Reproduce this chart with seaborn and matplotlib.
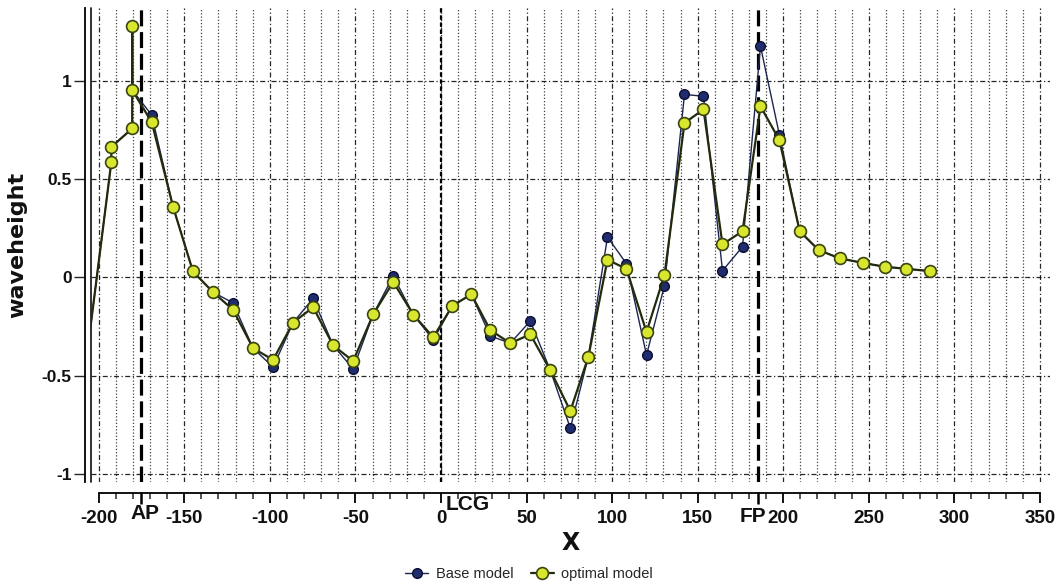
import matplotlib
matplotlib.use("Agg")
import matplotlib.pyplot as plt
import matplotlib.transforms as mtransforms
from matplotlib.ticker import MultipleLocator, FuncFormatter
import seaborn as sns

sns.set_theme(style="white")
plt.rcParams.update({
    "axes.unicode_minus": False,
    "font.family": ["DejaVu Sans"],
})
NARROW = ["Liberation Sans", "DejaVu Sans"]

# station positions along the hull (same for both models)
x_stations = [-212, -192.6, -192.6, -180.4, -180.4, -180.4, -169, -156.5, -144.9, -133.2,
              -121.5, -109.8, -98.1, -86.4, -74.7, -63, -51.3, -39.6, -27.9, -16.2,
              -4.5, 6.6, 17.7, 28.8, 40.5, 52.2, 63.9, 75.6, 86.1, 97.3,
              108.4, 120.1, 130.6, 142.3, 153.4, 164.5, 176.2, 186.7, 197.8, 209.6,
              220.7, 233, 246.4, 259.3, 271.6, 285.6]

base_wave = [-0.75, 0.588, 0.664, 0.758, 1.28, 0.953, 0.826, 0.358, 0.03, -0.075,
             -0.13, -0.36, -0.457, -0.23, -0.107, -0.346, -0.466, -0.188, 0.007, -0.189,
             -0.318, -0.145, -0.086, -0.298, -0.335, -0.222, -0.473, -0.767, -0.405, 0.205,
             0.07, -0.395, -0.042, 0.931, 0.922, 0.034, 0.156, 1.176, 0.724, 0.235,
             0.139, 0.097, 0.074, 0.054, 0.044, 0.032]

optimal_wave = [-0.75, 0.588, 0.664, 0.758, 1.28, 0.953, 0.79, 0.358, 0.03, -0.075,
                -0.165, -0.36, -0.42, -0.23, -0.152, -0.346, -0.426, -0.188, -0.023, -0.189,
                -0.305, -0.145, -0.086, -0.268, -0.335, -0.29, -0.473, -0.68, -0.405, 0.09,
                0.043, -0.278, 0.012, 0.786, 0.855, 0.168, 0.235, 0.871, 0.698, 0.235,
                0.139, 0.097, 0.074, 0.054, 0.044, 0.032]

# reference positions
ref_names = ["AP", "LCG", "FP"]
ref_x = [-175, 0, 185.2]

fig, ax = plt.subplots(figsize=(10.58, 5.87), dpi=100)
fig.subplots_adjust(left=0.086, right=0.992, top=0.986, bottom=0.179)

sns.lineplot(x=x_stations, y=base_wave, ax=ax, sort=False, estimator=None,
             color="#1d2550", lw=1.0, marker="o", markersize=7,
             markerfacecolor="#1f2c70", markeredgecolor="#0c0f2e", markeredgewidth=1.0,
             label="Base model", zorder=3)
sns.lineplot(x=x_stations, y=optimal_wave, ax=ax, sort=False, estimator=None,
             color="#222c0c", lw=1.6, marker="o", markersize=8.5,
             markerfacecolor="#d9e62e", markeredgecolor="#3a4510", markeredgewidth=1.2,
             label="optimal model", zorder=4)

ax.set_xlim(-204.5, 355.6)
ax.set_ylim(-1.041, 1.37)

# grid
ax.xaxis.set_major_locator(MultipleLocator(50))
ax.xaxis.set_minor_locator(MultipleLocator(10))
ax.yaxis.set_major_locator(MultipleLocator(0.5))
ax.yaxis.set_major_formatter(FuncFormatter(lambda v, p: f"{v:g}"))
ax.grid(which="major", axis="both", color="black", lw=0.9, alpha=0.85,
        linestyle=(0, (4, 2, 1, 2)))
ax.grid(which="minor", axis="x", color="black", lw=0.9, alpha=0.75,
        linestyle=(0, (1, 1.6)))
ax.set_axisbelow(True)

# reference lines
for name, xv in zip(ref_names, ref_x):
    if name == "LCG":
        ax.axvline(xv, color="black", lw=1.6, linestyle=(0, (2, 1.2)), zorder=2)
    else:
        ax.axvline(xv, color="black", lw=2.3, linestyle=(0, (5, 1.8)), zorder=2)

trans = mtransforms.blended_transform_factory(ax.transData, ax.transAxes)
ax.text(ref_x[0] + 2, -0.066, "AP", transform=trans, ha="center", va="center",
        family=NARROW, fontweight="bold", fontsize=15, color="#111111")
ax.text(ref_x[1] + 2.5, -0.047, "LCG", transform=trans, ha="left", va="center",
        family=NARROW, fontweight="bold", fontsize=15, color="#111111")
ax.text(ref_x[2] - 3, -0.074, "FP", transform=trans, ha="center", va="center",
        family=NARROW, fontweight="bold", fontsize=15, color="#111111")
for xv in (ref_x[0], ref_x[2]):
    ax.plot([xv], [-0.034], transform=trans, marker="|", ms=9, mew=1.8,
            color="black", clip_on=False)

# spines
for s in ["top", "right"]:
    ax.spines[s].set_visible(False)
ax.spines["bottom"].set_position(("outward", 8))
ax.spines["bottom"].set_bounds(-200, 350)
ax.spines["left"].set_position(("outward", 4))
for s in ["bottom", "left"]:
    ax.spines[s].set_color("black")
    ax.spines[s].set_linewidth(1.3)
ax.axvline(ax.get_xlim()[0], color="#222222", lw=1.3, clip_on=False)

ax.tick_params(axis="x", which="major", direction="out", length=7, width=1.3,
               bottom=True, pad=5, labelsize=13.5, colors="black")
ax.tick_params(axis="x", which="minor", direction="out", length=4, width=1.1,
               bottom=True)
ax.tick_params(axis="y", which="major", direction="out", length=8, width=1.0,
               left=True, pad=2, labelsize=12.5)
for lab in ax.get_xticklabels() + ax.get_yticklabels():
    lab.set_family(NARROW)
    lab.set_fontweight("bold")
    lab.set_color("#111111")

ax.set_xlabel("X", fontsize=17, fontweight="bold", labelpad=3, color="#111111")
ax.set_ylabel("waveheight", fontsize=16, fontweight="bold", labelpad=10, color="#111111")

ax.get_legend().remove()
handles, labels = ax.get_legend_handles_labels()
fig.legend(handles, labels, loc="center", bbox_to_anchor=(0.5, 0.022), ncol=2,
           frameon=False, prop={"family": NARROW, "size": 10.5}, handlelength=1.6,
           columnspacing=1.2, handletextpad=0.5)

fig.savefig("out.png", dpi=100)
